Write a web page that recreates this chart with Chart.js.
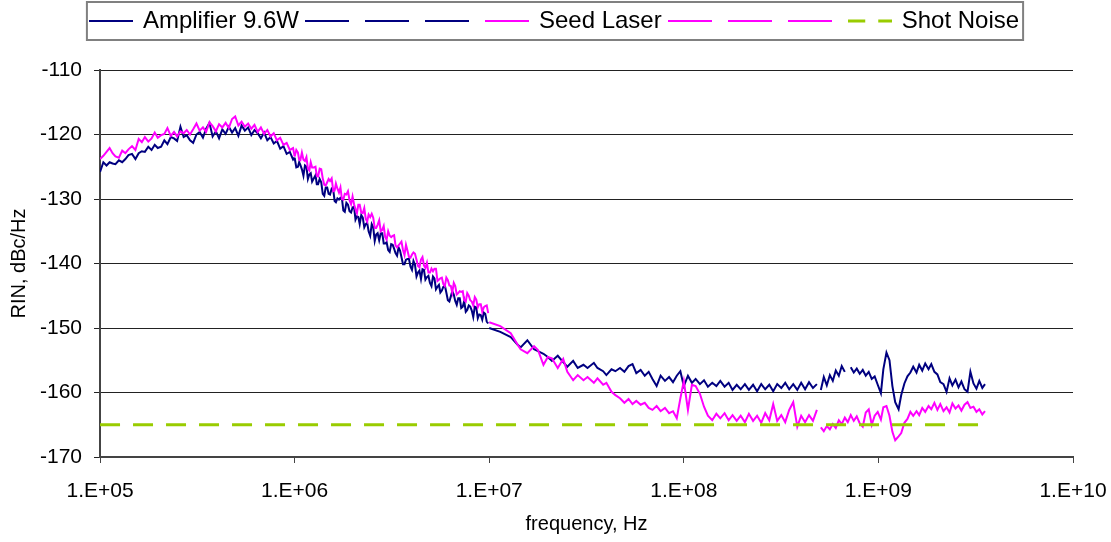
<!DOCTYPE html>
<html>
<head>
<meta charset="utf-8">
<script src="https://cdn.jsdelivr.net/npm/chart.js@4.4.1/dist/chart.umd.min.js"></script>
<style>
body { margin: 0; background: #fff; }
</style>
</head>
<body>
<canvas id="rinChart" width="1111" height="542"></canvas>
<script>
// sweep 1: 100 kHz - 1 MHz
const freq1 = [1.00e5,1.04e5,1.08e5,1.12e5,1.16e5,1.20e5,1.25e5,1.30e5,1.35e5,1.40e5,
  1.46e5,1.52e5,1.58e5,1.64e5,1.70e5,1.77e5,1.84e5,1.91e5,1.98e5,2.06e5,
  2.14e5,2.22e5,2.31e5,2.40e5,2.49e5,2.59e5,2.69e5,2.79e5,2.90e5,3.01e5,
  3.13e5,3.25e5,3.38e5,3.51e5,3.65e5,3.79e5,3.94e5,4.09e5,4.25e5,4.42e5,
  4.59e5,4.77e5,4.95e5,5.14e5,5.34e5,5.55e5,5.77e5,5.99e5,6.22e5,6.46e5,
  6.71e5,6.97e5,7.24e5,7.52e5,7.81e5,8.11e5,8.43e5,8.76e5,9.10e5,9.45e5,9.82e5,1.00e6];
const amp1 = [-125.8,-124.3,-124.8,-124.3,-124.5,-124.6,-124.0,-124.3,-123.8,-123.2,
  -123.0,-123.8,-122.9,-122.6,-122.7,-121.9,-122.4,-121.6,-122.1,-121.9,
  -120.9,-121.5,-120.4,-120.6,-121.0,-118.8,-120.4,-120.1,-120.9,-121.3,
  -120.0,-119.6,-120.5,-119.1,-118.2,-120.3,-119.5,-120.6,-119.2,-119.9,
  -118.8,-119.7,-119.0,-120.2,-118.6,-119.4,-118.9,-120.1,-119.3,-119.8,
  -120.6,-119.7,-120.9,-120.4,-121.4,-121.0,-122.2,-121.8,-123.0,-122.7,-123.9,-123.6];
const seed1 = [-123.8,-123.3,-122.7,-122.1,-122.9,-123.4,-123.6,-122.5,-122.9,-122.3,
  -121.8,-122.4,-120.7,-121.2,-120.4,-121.1,-120.6,-119.7,-120.5,-120.1,
  -119.9,-119.0,-120.2,-119.6,-120.3,-119.5,-119.8,-119.3,-120.0,-119.2,
  -118.3,-119.4,-118.9,-119.6,-118.1,-118.7,-119.5,-118.4,-118.9,-118.2,
  -119.0,-117.6,-117.2,-118.6,-118.0,-118.8,-118.3,-119.1,-118.5,-119.6,
  -118.9,-119.9,-119.3,-120.3,-119.8,-120.9,-120.5,-121.6,-121.3,-122.4,-122.1,-123.4];

// sweep 2: 1 MHz - 10 MHz
const freq2 = [1.00e6,1.02e6,1.04e6,1.055e6,1.07e6,1.09e6,1.11e6,1.13e6,1.15e6,1.17e6,
  1.19e6,1.21e6,1.23e6,1.255e6,1.28e6,1.30e6,1.32e6,1.345e6,1.37e6,1.395e6,
  1.42e6,1.445e6,1.47e6,1.495e6,1.52e6,1.55e6,1.58e6,1.605e6,1.63e6,1.66e6,
  1.69e6,1.72e6,1.75e6,1.78e6,1.81e6,1.845e6,1.88e6,1.915e6,1.95e6,1.985e6,
  2.02e6,2.055e6,2.09e6,2.125e6,2.16e6,2.20e6,2.24e6,2.28e6,2.32e6,2.36e6,
  2.40e6,2.445e6,2.49e6,2.535e6,2.58e6,2.625e6,2.67e6,2.72e6,2.77e6,2.82e6,
  2.87e6,2.92e6,2.97e6,3.025e6,3.08e6,3.135e6,3.19e6,3.245e6,3.30e6,3.36e6,
  3.42e6,3.48e6,3.54e6,3.605e6,3.67e6,3.735e6,3.80e6,3.87e6,3.94e6,4.01e6,
  4.08e6,4.155e6,4.23e6,4.305e6,4.38e6,4.46e6,4.54e6,4.62e6,4.70e6,4.785e6,
  4.87e6,4.96e6,5.05e6,5.14e6,5.23e6,5.325e6,5.42e6,5.515e6,5.61e6,5.71e6,
  5.81e6,5.915e6,6.02e6,6.13e6,6.24e6,6.35e6,6.46e6,6.575e6,6.69e6,6.81e6,
  6.93e6,7.055e6,7.18e6,7.31e6,7.44e6,7.575e6,7.71e6,7.85e6,7.99e6,8.135e6,
  8.28e6,8.43e6,8.58e6,8.735e6,8.89e6,9.05e6,9.21e6,9.375e6,9.54e6,9.71e6,9.88e6];
const amp2 = [-123.6,-125.1,-125.0,-124.3,-124.7,-125.4,-126.4,-124.8,-125.0,-126.9,
  -126.2,-126.0,-127.3,-126.8,-126.3,-127.7,-127.7,-126.9,-127.4,-129.2,
  -129.5,-128.2,-128.2,-129.2,-129.3,-128.4,-128.6,-130.3,-130.5,-129.9,
  -130.1,-129.8,-129.9,-131.8,-132.0,-130.6,-130.9,-131.9,-132.1,-131.3,
  -131.2,-133.2,-132.7,-132.8,-133.9,-132.5,-132.9,-134.4,-133.9,-133.7,
  -135.0,-135.7,-133.9,-134.4,-136.5,-135.5,-135.3,-136.4,-135.3,-135.3,
  -136.9,-136.9,-136.7,-137.9,-138.2,-137.0,-137.1,-137.7,-138.4,-138.8,
  -137.5,-138.0,-139.0,-140.1,-140.1,-139.4,-139.3,-139.3,-140.5,-141.0,
  -139.6,-140.2,-142.0,-141.4,-141.1,-142.4,-140.9,-141.0,-142.5,-142.1,
  -141.9,-143.0,-143.5,-142.0,-142.3,-144.0,-143.6,-143.3,-144.5,-144.2,
  -143.6,-143.4,-144.5,-145.7,-145.9,-145.1,-144.3,-144.8,-145.8,-146.4,
  -145.4,-145.4,-146.9,-146.7,-145.8,-147.5,-147.2,-146.5,-146.7,-147.3,
  -148.3,-146.7,-146.8,-148.5,-147.9,-148.0,-148.7,-147.6,-147.8,-149.0,-149.3];
const seed2 = [-123.4,-122.4,-122.8,-123.9,-124.0,-122.8,-123.9,-124.1,-123.5,-125.3,
  -125.6,-124.3,-125.1,-125.1,-125.0,-126.4,-126.5,-125.3,-125.4,-126.8,
  -127.8,-127.9,-127.4,-126.9,-127.2,-126.8,-128.8,-128.7,-127.6,-128.4,
  -129.0,-128.2,-130.0,-130.1,-129.2,-129.3,-128.8,-130.2,-130.8,-129.6,
  -130.8,-131.6,-132.2,-130.9,-130.9,-132.1,-132.2,-131.4,-133.1,-133.5,
  -132.4,-132.8,-132.3,-132.9,-134.5,-134.5,-134.0,-133.3,-135.0,-134.8,
  -134.2,-135.9,-136.3,-135.0,-135.7,-135.9,-135.7,-135.6,-137.2,-137.5,
  -137.2,-136.9,-136.6,-137.9,-138.7,-137.1,-138.0,-139.0,-139.1,-138.6,
  -138.3,-138.5,-139.4,-140.4,-140.6,-139.4,-139.0,-140.3,-140.7,-139.9,
  -141.4,-141.4,-140.8,-141.2,-140.8,-140.8,-142.7,-142.5,-142.3,-142.2,
  -143.2,-143.5,-142.2,-142.6,-143.4,-143.5,-144.5,-143.0,-143.5,-144.8,
  -144.6,-144.3,-144.4,-144.3,-145.7,-145.9,-144.6,-145.0,-145.7,-145.9,
  -146.5,-145.2,-145.6,-146.8,-146.3,-146.3,-147.5,-146.8,-146.6,-146.5,-147.7];

// sweep 3: 10 MHz - 500 MHz
const freq3 = [1.00e7,1.14e7,1.29e7,1.40e7,1.45e7,1.57e7,1.70e7,1.78e7,1.90e7,2.00e7,
  2.10e7,2.25e7,2.40e7,2.52e7,2.70e7,2.85e7,3.05e7,3.20e7,3.45e7,3.60e7,
  3.85e7,4.00e7,4.25e7,4.45e7,4.70e7,4.95e7,5.20e7,5.45e7,5.70e7,6.00e7,
  6.30e7,6.60e7,6.90e7,7.25e7,7.60e7,8.00e7,8.40e7,8.80e7,9.20e7,9.60e7,
  1.00e8,1.05e8,1.10e8,1.15e8,1.21e8,1.27e8,1.33e8,1.40e8,1.47e8,1.54e8,
  1.62e8,1.70e8,1.78e8,1.87e8,1.96e8,2.06e8,2.16e8,2.27e8,2.38e8,2.50e8,
  2.62e8,2.75e8,2.88e8,3.02e8,3.17e8,3.32e8,3.48e8,3.65e8,3.83e8,4.01e8,
  4.20e8,4.40e8,4.61e8,4.83e8];
const amp3 = [-150.0,-150.6,-151.4,-152.6,-153.0,-151.9,-153.3,-153.6,-154.0,-154.5,
  -155.1,-154.3,-155.3,-156.0,-155.1,-156.2,-155.7,-156.2,-155.4,-156.2,
  -156.7,-157.3,-156.4,-156.7,-156.2,-156.8,-155.9,-155.6,-157.0,-156.5,
  -157.4,-156.8,-157.9,-159.0,-157.4,-158.2,-157.6,-158.4,-157.4,-156.7,
  -159.0,-157.4,-158.5,-157.9,-158.7,-158.1,-159.1,-158.5,-159.0,-158.2,
  -159.1,-158.5,-159.6,-158.8,-159.5,-158.7,-159.6,-158.8,-159.8,-158.7,
  -159.5,-158.8,-159.8,-158.7,-159.3,-158.5,-159.5,-158.7,-159.6,-158.5,
  -159.5,-158.4,-159.3,-158.7];
const seed3 = [-149.1,-149.7,-150.8,-152.6,-153.3,-153.9,-152.8,-153.4,-155.7,-154.5,
  -154.7,-156.2,-154.8,-156.8,-158.1,-157.3,-158.1,-157.6,-158.5,-157.8,
  -158.8,-158.5,-159.9,-160.4,-160.9,-161.6,-161.0,-161.8,-161.3,-161.9,
  -161.6,-162.4,-162.7,-162.1,-162.9,-162.4,-163.2,-162.9,-164.0,-160.9,
  -158.2,-162.7,-158.8,-159.0,-160.2,-162.2,-163.6,-164.3,-163.3,-164.0,
  -163.2,-164.3,-163.5,-164.4,-163.6,-164.6,-163.3,-164.4,-163.6,-164.7,
  -163.2,-164.3,-161.8,-164.4,-163.5,-164.6,-162.7,-161.5,-165.3,-163.6,
  -164.6,-163.5,-164.4,-162.7];

// sweep 4: 500 MHz - 3.5 GHz
const freq4 = [5.06e8,5.24e8,5.43e8,5.63e8,5.83e8,6.04e8,6.26e8,6.48e8,6.72e8,6.96e8,
  7.21e8,7.47e8,7.74e8,8.02e8,8.31e8,8.61e8,8.92e8,9.24e8,9.57e8,9.92e8,
  1.03e9,1.06e9,1.10e9,1.14e9,1.18e9,1.22e9,1.27e9,1.31e9,1.36e9,1.41e9,
  1.46e9,1.51e9,1.57e9,1.62e9,1.68e9,1.74e9,1.81e9,1.87e9,1.94e9,2.01e9,
  2.08e9,2.16e9,2.24e9,2.32e9,2.40e9,2.49e9,2.58e9,2.67e9,2.77e9,2.87e9,
  2.97e9,3.08e9,3.19e9,3.30e9,3.42e9,3.53e9];
const amp4 = [-159.6,-157.6,-158.9,-157.3,-158.2,-156.6,-157.4,-155.9,-156.8,null,
  -156.1,-156.9,-156.3,-157.1,-156.5,-157.4,-156.8,-157.9,-157.5,-158.8,
  -160.1,-156.4,-153.8,-155.0,-159.0,-161.5,-162.6,-160.4,-158.6,-157.5,
  -156.9,-156.0,-156.9,-155.7,-156.6,-155.5,-156.4,-155.6,-156.8,-157.2,
  -158.4,-158.7,-159.9,-157.8,-158.9,-158.0,-159.2,-158.3,-159.5,-159.9,
  -156.8,-158.6,-159.4,-158.2,-159.3,-158.7];
const seed4 = [-165.4,-166.0,-165.2,-165.7,-164.9,-165.5,-164.3,-164.9,-163.9,-164.6,
  -163.5,-164.4,-163.7,-164.8,-165.3,-163.1,-162.6,-165.0,-163.6,-163.0,
  -164.2,-162.3,-162.1,-163.6,-166.1,-167.4,-166.8,-166.3,-164.7,-164.1,
  -163.0,-163.6,-162.9,-163.5,-162.4,-163.0,-162.1,-162.6,-161.6,-162.7,
  -161.8,-162.9,-162.3,-163.1,-161.7,-162.5,-162.0,-162.8,-161.9,-161.5,
  -162.4,-162.2,-163.0,-162.6,-163.4,-162.9];

const shotFreq = [1e5, 3.53e9];
const shotNoise = [-165, -165];

const xTickValues = [1e5, 1e6, 1e7, 1e8, 1e9, 1e10];
const xTickLabels = ["1.E+05", "1.E+06", "1.E+07", "1.E+08", "1.E+09", "1.E+10"];

const navy = "#000080";
const pink = "#ff00ff";
const lime = "#99cc00";

Chart.defaults.font.family = "'Liberation Sans', Arial, sans-serif";
Chart.defaults.color = "#000";

function points(xs, ys) {
  return xs.map((x, i) => ({ x: x, y: ys[i] }));
}

function lineSample(color, width, dash) {
  const c = document.createElement("canvas");
  c.width = 44;
  c.height = 6;
  const g = c.getContext("2d");
  g.strokeStyle = color;
  g.lineWidth = width;
  g.setLineDash(dash);
  g.beginPath();
  g.moveTo(0, 3);
  g.lineTo(44, 3);
  g.stroke();
  return c;
}

const ampSweeps = [[freq1, amp1], [freq2, amp2], [freq3, amp3], [freq4, amp4]];
const seedSweeps = [[freq1, seed1], [freq2, seed2], [freq3, seed3], [freq4, seed4]];

const datasets = [];
ampSweeps.forEach((s, i) => datasets.push({
  label: i === 0 ? "Amplifier 9.6W" : "",
  data: points(s[0], s[1]),
  borderColor: navy, borderWidth: 2, order: 2
}));
seedSweeps.forEach((s, i) => datasets.push({
  label: i === 0 ? "Seed Laser" : "",
  data: points(s[0], s[1]),
  borderColor: pink, borderWidth: 2, order: 1
}));
datasets.push({
  label: "Shot Noise",
  data: points(shotFreq, shotNoise),
  borderColor: lime, borderWidth: 3, borderDash: [20, 13], order: 0
});

// frame round the legend, and room under it
const legendFrame = {
  id: "legendFrame",
  beforeInit(chart) {
    const lg = chart.legend;
    const fit = lg.fit;
    lg.fit = function () { fit.call(this); this.height += 27; };
  },
  afterDraw(chart) {
    const boxes = chart.legend.legendHitBoxes;
    if (!boxes || !boxes.length) return;
    const a = boxes[0], b = boxes[boxes.length - 1];
    const ctx = chart.ctx;
    ctx.save();
    ctx.strokeStyle = "#808080";
    ctx.lineWidth = 2;
    ctx.strokeRect(a.left - 5, a.top - 7, b.left + b.width - a.left + 9, a.height + 14);
    ctx.restore();
  }
};

new Chart(document.getElementById("rinChart"), {
  type: "line",
  data: { datasets: datasets },
  options: {
    responsive: false,
    animation: false,
    devicePixelRatio: 1,
    events: [],
    elements: { point: { radius: 0 }, line: { tension: 0 } },
    plugins: {
      tooltip: { enabled: false },
      legend: {
        labels: {
          font: { size: 24 },
          color: "#000",
          usePointStyle: true,
          pointStyleWidth: 39,
          padding: 9,
          generateLabels(chart) {
            return chart.data.datasets.map((ds, i) => ({
              text: ds.label,
              datasetIndex: i,
              pointStyle: lineSample(ds.borderColor, ds.borderWidth, ds.borderDash ? [17, 13] : []),
              fillStyle: ds.borderColor,
              strokeStyle: ds.borderColor,
              lineWidth: 0,
              hidden: false
            }));
          }
        }
      }
    },
    scales: {
      x: {
        type: "logarithmic",
        min: 1e5,
        max: 1e10,
        afterBuildTicks(axis) {
          axis.ticks = xTickValues.map(v => ({ value: v }));
        },
        afterFit(axis) {
          axis.paddingRight = 38;
        },
        ticks: {
          font: { size: 21, lineHeight: 1 },
          padding: 18,
          maxRotation: 0,
          autoSkip: false,
          callback: (v, i) => xTickLabels[i]
        },
        grid: { drawOnChartArea: false, tickLength: 6, color: "#444" },
        border: { color: "#444", width: 2 },
        title: {
          display: true,
          text: "frequency, Hz",
          font: { size: 20 },
          padding: { top: -8, bottom: 6 }
        }
      },
      y: {
        min: -170,
        max: -110,
        ticks: { stepSize: 10, font: { size: 21 }, padding: 12 },
        grid: { color: "#222", tickLength: 6 },
        border: { color: "#444", width: 2 },
        title: {
          display: true,
          text: "RIN, dBc/Hz",
          font: { size: 20 },
          padding: { top: 7, bottom: -3 }
        }
      }
    }
  },
  plugins: [legendFrame]
});
</script>
</body>
</html>
